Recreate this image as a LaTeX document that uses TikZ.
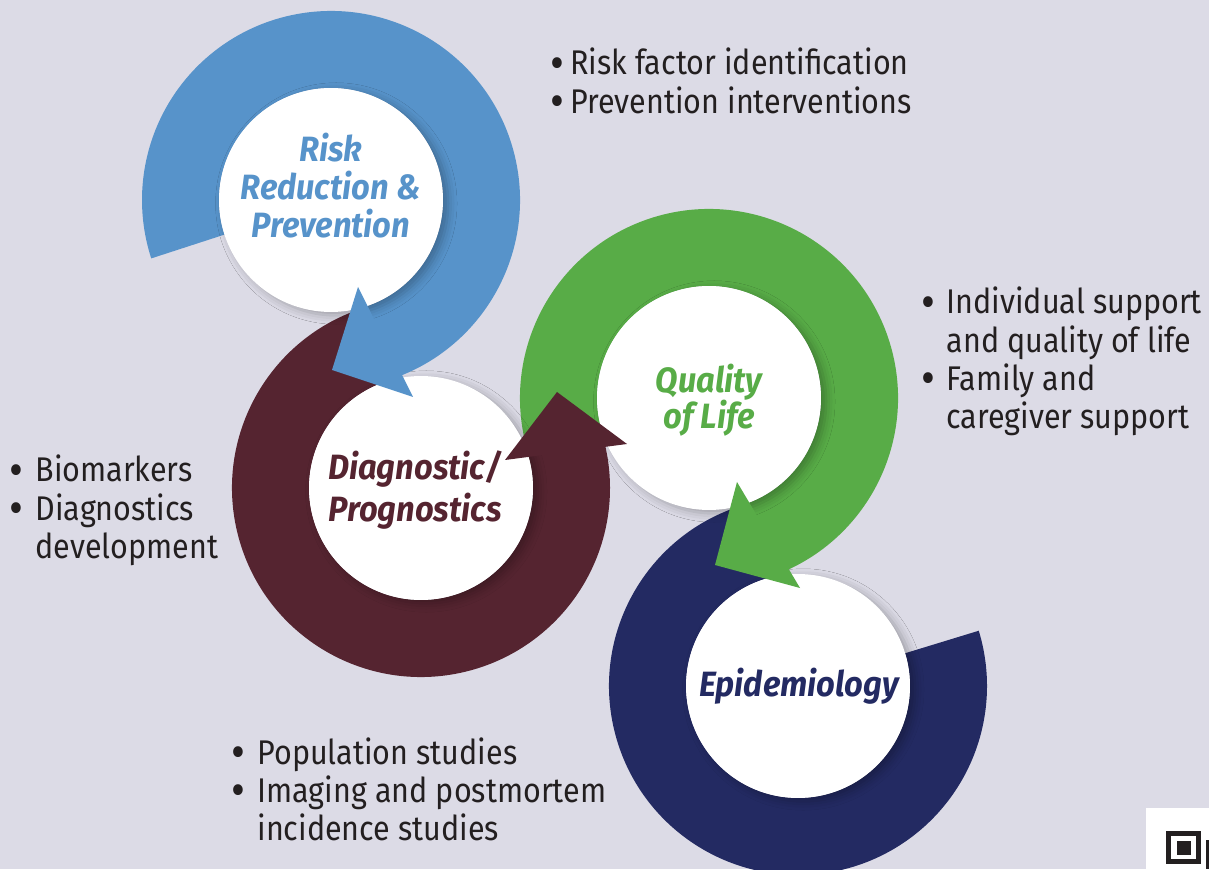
\documentclass[tikz,border=0pt]{standalone}
\usepackage{fontspec}
\usepackage{graphicx}
\setmainfont{Fira Sans}[FakeStretch=0.89]
\newfontfamily\hubfont{Fira Sans}[FakeStretch=0.93]
\usetikzlibrary{positioning,shadows.blur}
\definecolor{bgcol}{RGB}{220,219,230}
\definecolor{riskblue}{RGB}{87,147,202}
\definecolor{diagred}{RGB}{85,36,48}
\definecolor{lifegreen}{RGB}{88,172,71}
\definecolor{epinavy}{RGB}{35,42,98}
\definecolor{txtgray}{RGB}{35,31,32}
\tikzset{
  hub/.style={circle, fill=white, minimum size=4.48cm, inner sep=0pt,
    blur shadow={shadow xshift=3pt, shadow yshift=-2pt, shadow blur radius=5pt, shadow opacity=28}},
  hubtext/.style={font=\hubfont\bfseries\itshape\fontsize{20}{21.6}\selectfont, align=center, inner sep=0pt},
  points/.style={font=\fontsize{19.5}{21.6}\selectfont, text=txtgray, inner sep=0pt, anchor=base west}
}
\newcommand{\dotmark}{\smash{\raisebox{-0.12em}{\scalebox{1.4}{\textbullet}}}}
% ring from angle #2 to #3 round the point #1, colour #4
\newcommand{\ring}[4]{%
  \fill[#4] ([shift={(#2:189)}]#1) arc[start angle=#2, end angle=#3, radius=189]
    -- ([shift={(#3:112)}]#1) arc[start angle=#3, end angle=#2, radius=112] -- cycle;}

\begin{document}
\begin{tikzpicture}[x=0.02cm, y=0.02cm]
  \clip (0,0) rectangle (1209,869);
  \fill[bgcol] (0,0) rectangle (1209,869);

  % Rings and hubs
  \coordinate (epic) at (798,183);
  \coordinate (lifec) at (709,471);
  \coordinate (diagc) at (421,381);
  \coordinate (riskc) at (331,669);

  \ring{epic}{105}{377}{epinavy}
  \node (epi) [hub] at (epic) {};
  \ring{lifec}{-70}{200}{lifegreen}
  \node (life) [hub] at (lifec) {};
  \ring{diagc}{105}{380}{diagred}
  \node (diag) [hub] at (diagc) {};
  \ring{riskc}{-75}{198}{riskblue}
  \node (risk) [hub] at (riskc) {};

  % Arrow tips
  \fill[riskblue] (358,582) -- (332,499) -- (413,472) -- cycle;
  \fill[diagred] (557,477) -- (505,409) -- (627,425) -- cycle;
  \fill[lifegreen] (737,387) -- (715,304) -- (800,281) -- cycle;

  % Titles
  \node (risktitle) [hubtext, text=riskblue] at (331,683) {Risk\\Reduction \&\\Prevention};
  \node (diagtitle) [hubtext, text=diagred] at (415,379) {Diagnostic/\\[2.8pt]Prognostics};
  \node (lifetitle) [hubtext, text=lifegreen] at (709,469) {Quality\\[-1pt]of Life};
  \node (epititle) [hubtext, text=epinavy] at (799,183) {Epidemiology};

  % Bullet lists
  \node (riskpts) [points] at (550,794) {\begin{tabular}[t]{@{}l@{\hspace{3.5pt}}l@{}}
      \dotmark & Risk factor identification\\
      \dotmark & Prevention interventions
    \end{tabular}};
  \node (lifepts) [points] at (921,555) {\begin{tabular}[t]{@{}l@{\hspace{6.5pt}}l@{}}
      \dotmark & Individual support\\
      & and quality of life\\
      \dotmark & Family and\\
      & caregiver support
    \end{tabular}};
  \node (diagpts) [points] at (9,387) {\begin{tabular}[t]{@{}l@{\hspace{7pt}}l@{}}
      \dotmark & Biomarkers\\
      \dotmark & Diagnostics\\
      & development
    \end{tabular}};
  \node (epipts) [points] at (231,105) {\begin{tabular}[t]{@{}l@{\hspace{7pt}}l@{}}
      \dotmark & Population studies\\
      \dotmark & Imaging and postmortem\\
      & incidence studies
    \end{tabular}};

  % corner badge
  \fill[white] (1146,0) rectangle (1209,61);
  \draw[txtgray, line width=0.1cm] (1168.5,7.5) rectangle (1198.5,35.5);
  \fill[txtgray] (1177,14) rectangle (1191,28);
  \fill[txtgray] (1206,0) rectangle (1209,29);
\end{tikzpicture}
\end{document}
